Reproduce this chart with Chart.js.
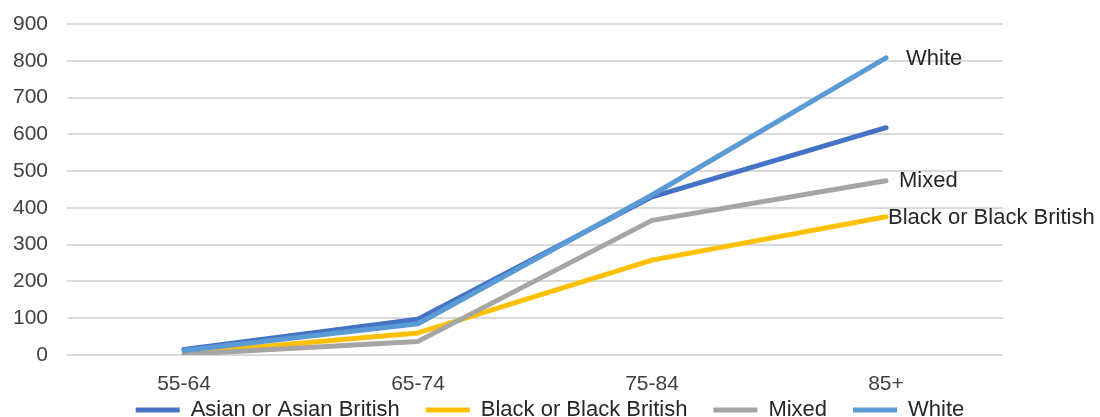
<!DOCTYPE html>
<html>
<head>
<meta charset="utf-8">
<script src="https://cdn.jsdelivr.net/npm/chart.js@4/dist/chart.umd.min.js"></script>
<style>
  html, body { margin: 0; padding: 0; background: #ffffff; }
  #wrap { width: 1100px; height: 417px; }
</style>
</head>
<body>
<div id="wrap"><canvas id="chart" width="1100" height="417"></canvas></div>
<script>
// Age bands on the category axis
const ageBands = ['55-64', '65-74', '75-84', '85+'];

// Values per ethnic group
const asianValues = [15, 97, 430, 618];
const blackValues = [5, 60, 258, 376];
const mixedValues = [2, 37, 366, 474];
const whiteValues = [12, 85, 435, 808];

const seriesNames = ['Asian or Asian British', 'Black or Black British', 'Mixed', 'White'];
const seriesColors = ['#4472C4', '#FFC000', '#A5A5A5', '#5B9BD5'];

// Text written beside the last point of a line
const endLabels = ['', 'Black or Black British', 'Mixed', 'White'];

const FONT = "'Liberation Sans', Arial, sans-serif";

// Writes a name next to the final point of each line that has one
const endLabelPlugin = {
  id: 'endLabels',
  afterDatasetsDraw(chart, args, opts) {
    const ctx = chart.ctx;
    ctx.save();
    ctx.font = opts.size + 'px ' + FONT;
    ctx.fillStyle = opts.color;
    ctx.textAlign = 'left';
    ctx.textBaseline = 'middle';
    chart.data.datasets.forEach((ds, i) => {
      const text = endLabels[i];
      if (!text) return;
      const meta = chart.getDatasetMeta(i);
      const pt = meta.data[meta.data.length - 1];
      const off = opts.offsets[i] || [0, 0];
      ctx.fillText(text, pt.x + off[0], pt.y + off[1]);
    });
    ctx.restore();
  }
};

// The category axis is kept short so the legend sits close under it;
// let its labels paint down to the canvas edge instead of being clipped.
// The legend row is centred on the whole canvas, not just the plot width.
const layoutTweaks = {
  id: 'layoutTweaks',
  afterLayout(chart) {
    const lg = chart.legend;
    lg.left = 0;
    lg.right = chart.width;
    lg.width = chart.width;
  },
  beforeDraw(chart) {
    chart.scales.x.bottom = chart.height;
  }
};

const valueSets = [asianValues, blackValues, mixedValues, whiteValues];
const drawOrder = [4, 3, 2, 1];

const datasets = valueSets.map((vals, i) => ({
  label: seriesNames[i],
  data: vals,
  borderColor: seriesColors[i],
  backgroundColor: seriesColors[i],
  borderWidth: 5,
  pointRadius: 0,
  pointHoverRadius: 0,
  tension: 0,
  borderJoinStyle: 'round',
  borderCapStyle: 'round',
  order: drawOrder[i],
  fill: false
}));

new Chart(document.getElementById('chart'), {
  type: 'line',
  data: { labels: ageBands, datasets: datasets },
  plugins: [endLabelPlugin, layoutTweaks],
  options: {
    responsive: false,
    animation: false,
    devicePixelRatio: 1,
    layout: { padding: { top: 24, right: 97, left: 0, bottom: -14 } },
    scales: {
      x: {
        offset: true,
        grid: { display: false, drawTicks: false },
        border: { display: false },
        ticks: { color: '#404040', font: { family: FONT, size: 21 }, padding: 17 },
        afterFit: (scale) => { scale.height = 18; }
      },
      y: {
        min: 0,
        max: 900,
        grid: { color: '#D9D9D9', lineWidth: 2, drawTicks: false },
        border: { display: false },
        ticks: { stepSize: 100, color: '#404040', font: { family: FONT, size: 21 }, padding: 19 },
        afterFit: (scale) => {
          scale.width = 67;
          scale.paddingTop = 0;
          scale.paddingBottom = 0;
        }
      }
    },
    plugins: {
      tooltip: { enabled: false },
      endLabels: { size: 22, color: '#262626', offsets: { 1: [2, 1], 2: [13, 0], 3: [20, 1] } },
      legend: {
        position: 'bottom',
        align: 'center',
        labels: {
          usePointStyle: true,
          pointStyle: 'line',
          pointStyleWidth: 44,
          color: '#262626',
          font: { family: FONT, size: 22 },
          padding: 26,
          sort: (a, b) => a.datasetIndex - b.datasetIndex
        }
      }
    }
  }
});
</script>
</body>
</html>
